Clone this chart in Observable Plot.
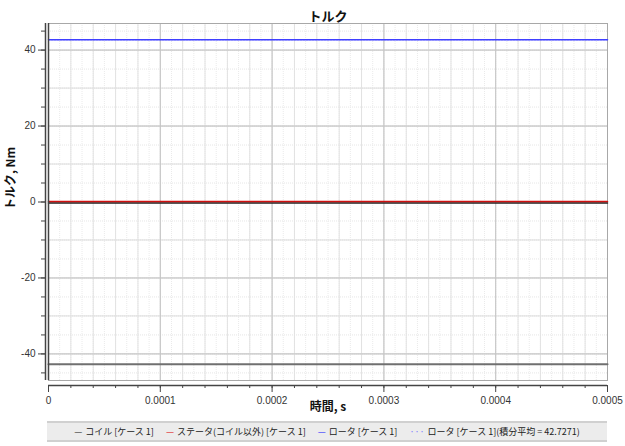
<!DOCTYPE html>
<html><head><meta charset="utf-8">
<script src="https://cdn.jsdelivr.net/npm/d3@7"></script>
<script src="https://cdn.jsdelivr.net/npm/@observablehq/plot@0.6"></script>
<style>
body{margin:0;background:#fff;font-family:"Liberation Sans","Noto Sans CJK JP",sans-serif;}
#legend{position:absolute;left:47px;top:421px;width:560px;height:17px;background:#ececec;border-top:2px solid #d0d0d0;border-bottom:2px solid #d0d0d0;font-family:"Noto Sans CJK JP",sans-serif;font-size:9px;line-height:17px;text-align:center;color:#222;white-space:nowrap;}
#legend span{margin:0 6px;}
</style></head><body>
<div id="chart"></div>
<div id="legend"></div>
<script>
const title = "トルク";
const yLabel = "トルク, Nm";
const xLabel = "時間, s";
const time = [0, 0.0005];
const coil = [0, 0];
const stator = [0, 0];
const rotor = [42.7271, 42.7271];
const rotorAvg = [42.7271, 42.7271];
const reaction = [-42.7, -42.7];
const seriesNames = ["コイル [ケース 1]", "ステータ(コイル以外) [ケース 1]", "ロータ [ケース 1]", "ロータ [ケース 1](積分平均  = 42.7271)"];
const seriesColors = ["#333333", "#e02020", "#3030ff", "#8080ff"];
const yDomain = [-47, 47];
const xDomain = [0, 0.0005];
const yMajor = [-40, -20, 0, 20, 40];
const yMinor = d3.range(-45, 46, 5);
const y10 = d3.range(-40, 41, 10);
const xMajor = [0, 0.0001, 0.0002, 0.0003, 0.0004, 0.0005];
const xMinor = d3.range(0, 26).map(i => i * 0.00002);
const xDot = d3.range(0, 51).map(i => i * 0.00001);

const mk = arr => time.map((t, i) => ({t, v: arr[i]}));

const plot = Plot.plot({
  width: 625, height: 420,
  marginTop: 23, marginBottom: 40, marginLeft: 48, marginRight: 18,
  style: {fontFamily: "Liberation Sans, sans-serif", fontSize: "10px", color: "#333"},
  x: {domain: xDomain},
  y: {domain: yDomain},
  marks: [
    Plot.ruleY(yMinor, {stroke: "#e6e6e6", strokeDasharray: "1,1"}),
    Plot.ruleX(xDot, {stroke: "#eaeaea", strokeDasharray: "1,1"}),
    Plot.ruleY(y10, {stroke: "#dcdcdc"}),
    Plot.ruleX(xMinor, {stroke: "#e2e2e2"}),
    Plot.ruleY(yMajor, {stroke: "#c4c4c4"}),
    Plot.ruleX(xMajor, {stroke: "#c4c4c4"}),
    Plot.frame({stroke: "#a8a8a8"}),
    Plot.lineY(mk(reaction), {x: "t", y: "v", stroke: "#707070", strokeWidth: 2}),
    Plot.lineY(mk(coil), {x: "t", y: "v", stroke: "#202020", strokeWidth: 1.5, dy: 1}),
    Plot.lineY(mk(stator), {x: "t", y: "v", stroke: "#d01010", strokeWidth: 1.5, dy: -0.5}),
    Plot.lineY(mk(rotorAvg), {x: "t", y: "v", stroke: "#8080ff", strokeWidth: 1, strokeDasharray: "1,2"}),
    Plot.lineY(mk(rotor), {x: "t", y: "v", stroke: "#4040ff", strokeWidth: 1.5}),
    // left axis double line
    Plot.ruleX([xDomain[0]], {stroke: "#444", strokeWidth: 1.5, dx: 0}),
    Plot.ruleX([xDomain[0]], {stroke: "#444", strokeWidth: 1.5, dx: -3}),
    Plot.axisY({ticks: yMajor, tickSize: 7, tickPadding: 3, dx: -3, tickFormat: d => String(d), label: null, stroke: "#444"}),
    Plot.axisY({ticks: yMinor, tickSize: 4, dx: -3, text: null, label: null, stroke: "#444"}),
    // bottom axis
    Plot.ruleY([yDomain[0]], {stroke: "#444", strokeWidth: 1.5, dy: 5}),
    Plot.axisX({ticks: xMajor, tickSize: 7, tickPadding: 4, dy: 5, tickFormat: d => d === 0 ? "0" : d.toFixed(4), label: null, stroke: "#444"}),
    Plot.axisX({ticks: xMinor, tickSize: 3, dy: 5, text: null, label: null, stroke: "#444"}),
    Plot.text([title], {frameAnchor: "top", dy: -12, fontSize: 13, fontWeight: "bold", fill: "#111", fontFamily: "Noto Sans CJK JP"}),
    Plot.text([xLabel], {frameAnchor: "bottom", dy: 30, fontSize: 12, fontWeight: "bold", fill: "#111", fontFamily: "Noto Sans CJK JP"}),
    Plot.text([yLabel], {frameAnchor: "left", dx: -37, dy: 8, rotate: -90, fontSize: 12, fontWeight: "bold", fill: "#111", fontFamily: "Noto Sans CJK JP"})
  ]
});
document.getElementById("chart").appendChild(plot);

const legend = document.getElementById("legend");
seriesNames.forEach((n, i) => {
  const s = document.createElement("span");
  const dash = document.createElement("b");
  dash.textContent = i === 3 ? "···" : "—";
  dash.style.color = seriesColors[i];
  dash.style.fontWeight = "normal";
  dash.style.marginRight = "3px";
  s.appendChild(dash);
  s.appendChild(document.createTextNode(n));
  legend.appendChild(s);
});
</script>
</body></html>
